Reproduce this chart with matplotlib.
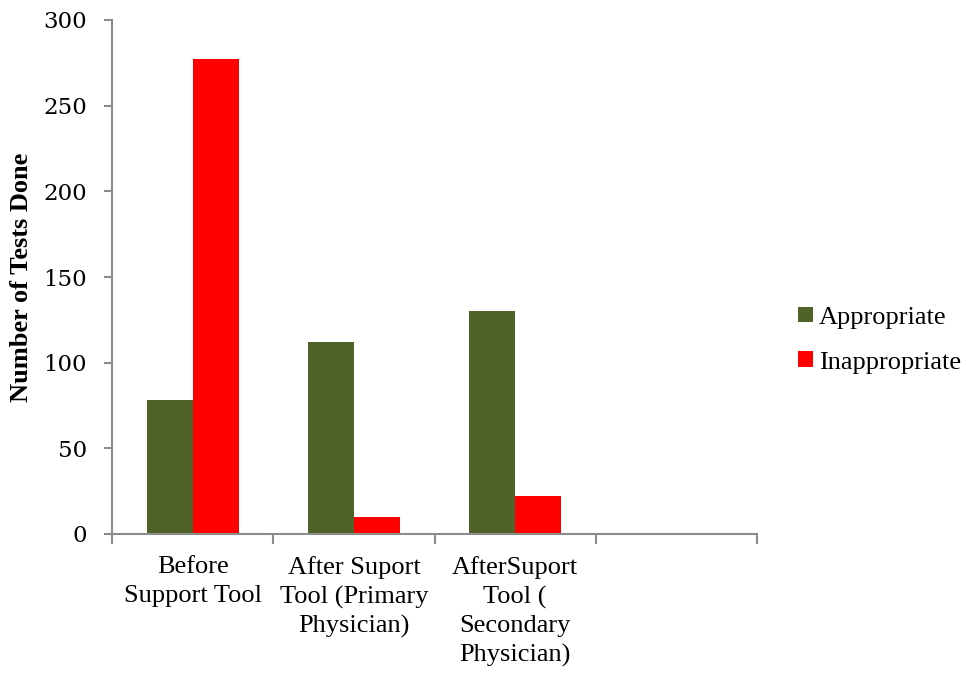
import matplotlib
matplotlib.use("Agg")
import matplotlib.pyplot as plt
from matplotlib.patches import Patch
import numpy as np

categories = ["Before\nSupport Tool",
              "After Suport\nTool (Primary\nPhysician)",
              "AfterSuport\nTool (\nSecondary\nPhysician)",
              ""]
appropriate = [78, 112, 130]
inappropriate = [277, 10, 22]
series_names = ["Appropriate", "Inappropriate"]
colors = ["#4F6228", "#FF0000"]
yticks = [0, 50, 100, 150, 200, 250, 300]

fig = plt.figure(figsize=(9.66, 6.76), dpi=100)
ax = fig.add_axes([112 / 966, 1 - 534 / 676, (757 - 112) / 966, (534 - 20) / 676])

n_slots = len(categories)
centers = np.arange(len(appropriate)) + 0.5
w = 0.286
ax.bar(centers - w / 2, appropriate, width=w, color=colors[0], zorder=2)
ax.bar(centers + w / 2, inappropriate, width=w, color=colors[1], zorder=2)

ax.set_xlim(0, n_slots)
ax.set_ylim(0, 300)

spine_color = "#8C8C8C"
for side in ("top", "right"):
    ax.spines[side].set_visible(False)
for side in ("left", "bottom"):
    ax.spines[side].set_color(spine_color)
    ax.spines[side].set_linewidth(1.5)

ax.set_yticks(yticks)
ax.set_yticklabels([str(v) for v in yticks], fontfamily="DejaVu Serif", fontsize=16.5)
ax.tick_params(axis="y", length=6, width=1.5, color=spine_color, pad=12)

# x ticks sit at slot boundaries; labels are centered in each slot
ax.set_xticks(np.arange(n_slots + 1))
ax.set_xticklabels([])
ax.tick_params(axis="x", length=7, width=1.5, color=spine_color)
ax.set_xticks(np.arange(n_slots) + 0.5, minor=True)
ax.set_xticklabels(categories, minor=True, fontfamily="Liberation Serif",
                   fontsize=19, linespacing=1.37, va="top")
ax.tick_params(axis="x", which="minor", length=0, pad=16)

fig.text(22 / 966, 1 - 277 / 676, "Number of Tests Done", rotation=90,
         ha="center", va="center", fontfamily="Liberation Serif",
         fontsize=19, fontweight="bold")

handles = [Patch(facecolor=c, edgecolor="none") for c in colors]
fig.legend(handles, series_names, loc="center left",
           bbox_to_anchor=(798 / 966, 1 - 340 / 676), frameon=False,
           prop={"family": "Liberation Serif", "size": 19},
           handlelength=0.55, handleheight=0.55, handletextpad=0.25,
           labelspacing=0.85, borderaxespad=0, borderpad=0)

fig.savefig("out.png", dpi=100)
